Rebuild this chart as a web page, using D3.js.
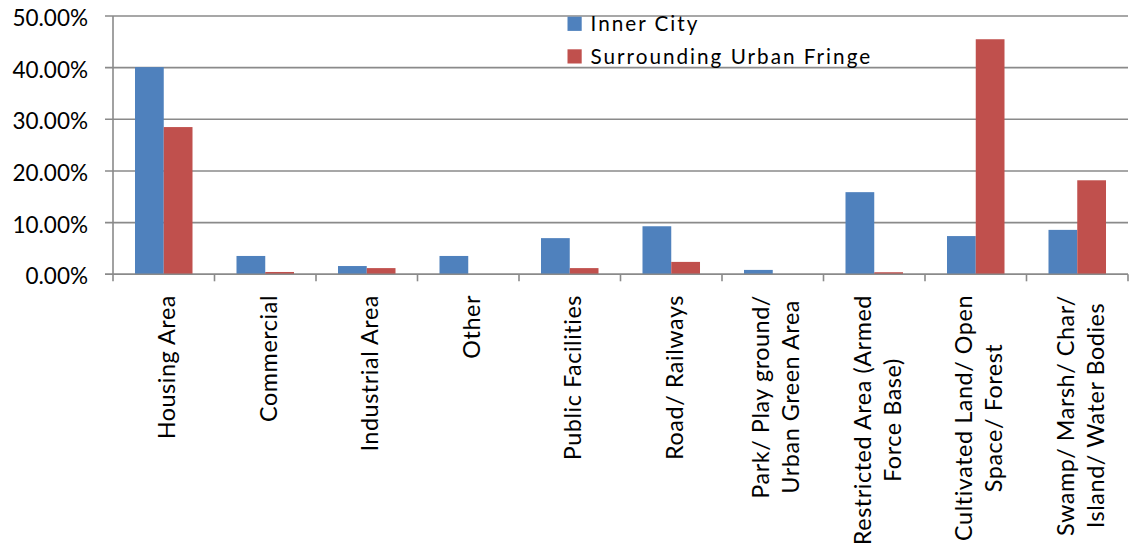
<!DOCTYPE html>
<html>
<head>
<meta charset="utf-8">
<script src="https://cdn.jsdelivr.net/npm/d3@7"></script>
<style>
  html, body { margin: 0; padding: 0; background: #ffffff; }
  svg { display: block; font-family: Lato, "Liberation Sans", sans-serif; }
</style>
</head>
<body>
<svg id="chart" width="1129" height="550"></svg>
<script>
// ---- data ----
const categories = [
  ["Housing Area"],
  ["Commercial"],
  ["Industrial Area"],
  ["Other"],
  ["Public Facilities"],
  ["Road/ Railways"],
  ["Park/ Play ground/", "Urban Green Area"],
  ["Restricted Area (Armed", "Force Base)"],
  ["Cultivated Land/ Open", "Space/ Forest"],
  ["Swamp/ Marsh/ Char/", "Island/ Water Bodies"]
];
const seriesNames = ["Inner City", "Surrounding Urban Fringe"];
const innerCity = [40.1, 3.55, 1.6, 3.55, 7.0, 9.3, 0.85, 15.9, 7.4, 8.6];
const urbanFringe = [28.5, 0.45, 1.2, 0.0, 1.2, 2.4, 0.0, 0.4, 45.5, 18.2];
const yTicks = [0, 10, 20, 30, 40, 50];
const colors = ["#4F81BD", "#C0504D"];

// ---- layout ----
const svg = d3.select("#chart");
const plot = { left: 113, right: 1128, top: 16, bottom: 274.3 };
const keys = categories.map(c => c.join(" "));
const seriesValues = [innerCity, urbanFringe];

const x0 = d3.scaleBand().domain(keys).range([plot.left, plot.right]).paddingInner(0).paddingOuter(0);
const x1 = d3.scaleBand().domain(seriesNames).range([0, x0.bandwidth()]).paddingInner(0).paddingOuter(0.765);
const y = d3.scaleLinear().domain([0, 50]).range([plot.bottom, plot.top]);

const gridColor = "#8a8a8a";

// gridlines (with y ticks extending left)
svg.append("g")
  .selectAll("line")
  .data(yTicks)
  .join("line")
  .attr("x1", plot.left - 8)
  .attr("x2", plot.right)
  .attr("y1", d => y(d))
  .attr("y2", d => y(d))
  .attr("stroke", gridColor)
  .attr("stroke-width", 1.6);

// y axis line
svg.append("line")
  .attr("x1", plot.left).attr("x2", plot.left)
  .attr("y1", plot.top).attr("y2", plot.bottom)
  .attr("stroke", gridColor).attr("stroke-width", 1.6);

// y tick labels
svg.append("g")
  .selectAll("text")
  .data(yTicks)
  .join("text")
  .attr("x", 88)
  .attr("y", d => y(d) + 10)
  .attr("text-anchor", "end")
  .attr("font-size", 22.5)
  .attr("fill", "#000")
  .text(d => d.toFixed(2) + "%");

// bars
const groups = svg.append("g")
  .selectAll("g")
  .data(keys)
  .join("g")
  .attr("transform", d => `translate(${x0(d)},0)`);

groups.selectAll("rect")
  .data((d, i) => seriesNames.map((s, j) => ({ s, v: seriesValues[j][i], j })))
  .join("rect")
  .attr("x", d => x1(d.s))
  .attr("width", x1.bandwidth())
  .attr("y", d => y(d.v))
  .attr("height", d => plot.bottom - y(d.v))
  .attr("fill", d => colors[d.j]);

// x axis line & ticks
svg.append("line")
  .attr("x1", plot.left - 8).attr("x2", plot.right)
  .attr("y1", plot.bottom).attr("y2", plot.bottom)
  .attr("stroke", gridColor).attr("stroke-width", 1.6);

const boundaries = keys.map(k => x0(k)).concat([plot.right]);
svg.append("g")
  .selectAll("line")
  .data(boundaries)
  .join("line")
  .attr("x1", d => d).attr("x2", d => d)
  .attr("y1", plot.bottom).attr("y2", plot.bottom + 7)
  .attr("stroke", gridColor).attr("stroke-width", 1.6);

// x labels (rotated)
const lineGap = 30;
const labelTop = 295;
const xl = svg.append("g")
  .selectAll("g")
  .data(categories)
  .join("g")
  .attr("transform", (d, i) => `translate(${x0(keys[i]) + x0.bandwidth() / 2},${labelTop}) rotate(-90)`);

xl.each(function (lines) {
  const g = d3.select(this);
  const texts = g.selectAll("text")
    .data(lines)
    .join("text")
    .attr("font-size", 23.4)
    .attr("letter-spacing", 0.55)
    .attr("fill", "#000")
    .attr("text-anchor", "middle")
    .attr("y", (d, i) => (i - (lines.length - 1) / 2) * lineGap + 11.5)
    .text(d => d);
  let maxLen = 0;
  texts.each(function () { maxLen = Math.max(maxLen, this.getComputedTextLength()); });
  texts.attr("x", -maxLen / 2);
});

// legend
const legend = svg.append("g")
  .selectAll("g")
  .data(seriesNames)
  .join("g")
  .attr("transform", (d, i) => `translate(567.5,${16.7 + i * 32.6})`);
legend.append("rect")
  .attr("width", 14.2).attr("height", 14.2)
  .attr("fill", (d, i) => colors[i]);
legend.append("text")
  .attr("x", 23)
  .attr("y", 14.5)
  .attr("font-size", 20.7)
  .attr("letter-spacing", 2.0)
  .attr("fill", "#000")
  .text(d => d);
</script>
</body>
</html>
